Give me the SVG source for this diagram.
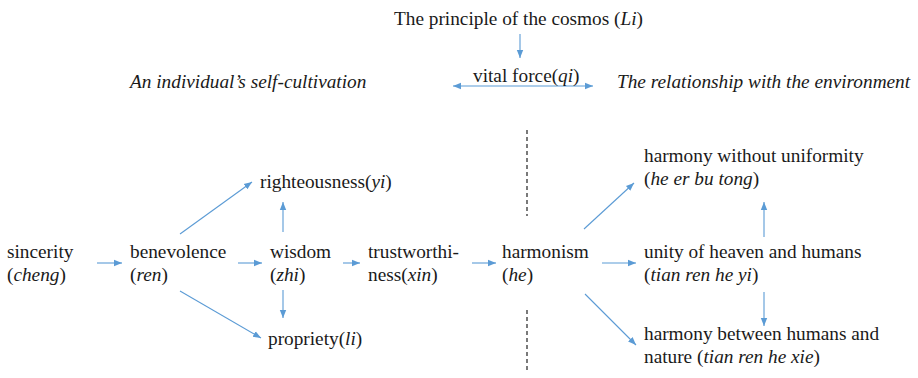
<svg xmlns="http://www.w3.org/2000/svg" width="918" height="378" viewBox="0 0 918 378">
<style>
text{font-family:"Liberation Serif","Times New Roman",serif;font-size:19.3px;fill:#1a1a1a}
.i{font-style:italic}
.c{stroke:#5B9BD5;stroke-width:1.1;fill:none;marker-end:url(#ah)}
.d{stroke:#333;stroke-width:1.3;stroke-dasharray:4 3;fill:none}
</style>
<defs>
<marker id="ah" viewBox="0 0 10 10" refX="10" refY="5" markerWidth="8" markerHeight="8" markerUnits="userSpaceOnUse" orient="auto-start-reverse">
<path d="M0,1 L10,5 L0,9 z" fill="#5B9BD5"/>
</marker>
</defs>
<rect width="918" height="378" fill="#fff"/>
<g id="connectors">
<line class="c" x1="520" y1="34" x2="520" y2="58"/>
<line class="c" x1="453" y1="86" x2="593" y2="86" marker-start="url(#ah)"/>
<line class="d" x1="527" y1="130" x2="527" y2="216"/>
<line class="d" x1="527" y1="310" x2="527" y2="372"/>
<line class="c" x1="97" y1="263" x2="122" y2="263"/>
<line class="c" x1="180" y1="234" x2="252" y2="182"/>
<line class="c" x1="238" y1="263" x2="262" y2="263"/>
<line class="c" x1="283" y1="232" x2="283" y2="202"/>
<line class="c" x1="283" y1="290" x2="283" y2="318"/>
<line class="c" x1="180" y1="291" x2="261" y2="338"/>
<line class="c" x1="343" y1="263" x2="360" y2="263"/>
<line class="c" x1="472" y1="263" x2="496" y2="263"/>
<line class="c" x1="584" y1="229" x2="634" y2="183"/>
<line class="c" x1="602" y1="263" x2="636" y2="263"/>
<line class="c" x1="585" y1="294" x2="636" y2="345"/>
<line class="c" x1="764" y1="237" x2="764" y2="202"/>
<line class="c" x1="764" y1="292" x2="764" y2="326"/>
</g>
<g font-family="Liberation Serif, Times New Roman, serif">
<g id="li"><text x="394" y="25">The principle of the cosmos (<tspan class="i">Li</tspan>)</text></g>
<g id="qi"><text x="473" y="82">vital force(<tspan class="i">qi</tspan>)</text></g>
<g id="left-head"><text x="130" y="88" class="i">An individual’s self-cultivation</text></g>
<g id="right-head"><text x="617" y="88" class="i">The relationship with the environment</text></g>
<g id="cheng"><text x="7" y="258">sincerity</text><text x="7" y="281">(<tspan class="i">cheng</tspan>)</text></g>
<g id="ren"><text x="130" y="258">benevolence</text><text x="130" y="281">(<tspan class="i">ren</tspan>)</text></g>
<g id="yi"><text x="260" y="188">righteousness(<tspan class="i">yi</tspan>)</text></g>
<g id="zhi"><text x="270" y="258">wisdom</text><text x="270" y="281">(<tspan class="i">zhi</tspan>)</text></g>
<g id="xin"><text x="368" y="258">trustworthi-</text><text x="368" y="281">ness(<tspan class="i">xin</tspan>)</text></g>
<g id="lii"><text x="268" y="345">propriety(<tspan class="i">li</tspan>)</text></g>
<g id="he"><text x="502" y="258">harmonism</text><text x="502" y="281">(<tspan class="i">he</tspan>)</text></g>
<g id="hebutong"><text x="644" y="162">harmony without uniformity</text><text x="644" y="185">(<tspan class="i">he er bu tong</tspan>)</text></g>
<g id="heyi"><text x="644" y="258">unity of heaven and humans</text><text x="644" y="281">(<tspan class="i">tian ren he yi</tspan>)</text></g>
<g id="hexie"><text x="644" y="340">harmony between humans and</text><text x="644" y="363">nature (<tspan class="i">tian ren he xie</tspan>)</text></g>
</g>
</svg>
